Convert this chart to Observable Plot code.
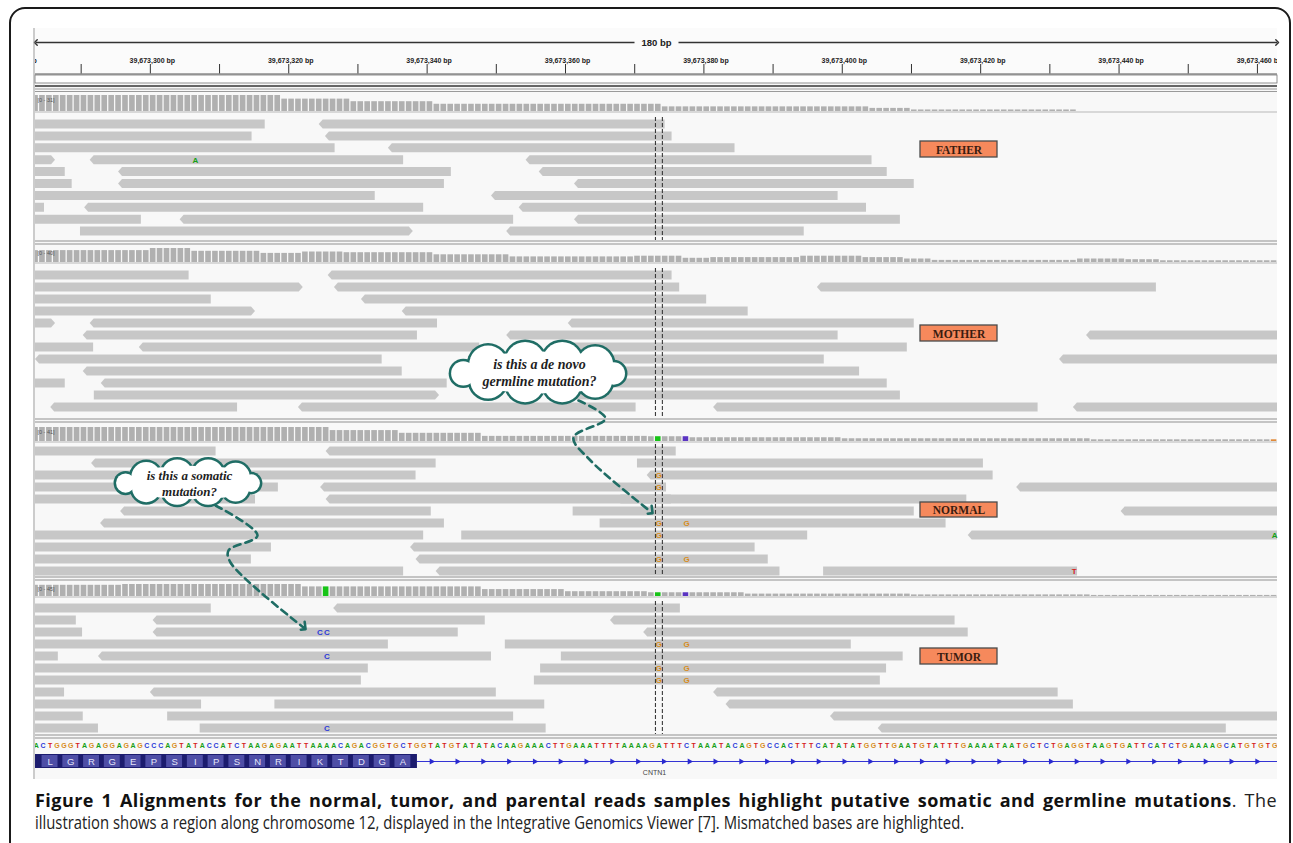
<!DOCTYPE html>
<html><head><meta charset="utf-8">
<script src="https://cdn.jsdelivr.net/npm/d3@7"></script>
<script src="https://cdn.jsdelivr.net/npm/@observablehq/plot@0.6"></script>
<style>
html,body{margin:0;padding:0;background:#fff;}
body{width:1293px;height:843px;position:relative;overflow:hidden;}
#frame{position:absolute;left:9px;top:7px;width:1278px;height:900px;border:2px solid #1a1a1a;border-radius:16px;}
#chart{position:absolute;left:0;top:0;}
#caption{position:absolute;left:35px;top:789px;width:1242px;font-family:"Open Sans",sans-serif;font-size:18px;line-height:22px;color:#222;}
#caption .l1{text-align:justify;text-align-last:justify;white-space:nowrap;letter-spacing:0.45px;}
#caption .l2{white-space:nowrap;transform:scaleX(0.825);transform-origin:0 0;}
#caption b{color:#111;}
</style></head><body>
<div id="frame"></div>
<div id="chart"></div>
<div id="caption"><div class="l1"><b>Figure 1 Alignments for the normal, tumor, and parental reads samples highlight putative somatic and germline mutations</b>. The</div><div class="l2">illustration shows a region along chromosome 12, displayed in the Integrative Genomics Viewer [7]. Mismatched bases are highlighted.</div></div>
<script>
// ================= DATA =================
const viewStart = 283.4, viewEnd = 462.9;            // visible window (bp offset of 39,673,000)
const rulerTickBp = [290,300,310,320,330,340,350,360,370,380,390,400,410,420,430,440,450,460];
const rulerLabelBp = [280,300,320,340,360,380,400,420,440,460];
const rulerLabels = ["39,673,280 bp","39,673,300 bp","39,673,320 bp","39,673,340 bp","39,673,360 bp","39,673,380 bp","39,673,400 bp","39,673,420 bp","39,673,440 bp","39,673,460 bp"];
const spanLabel = "180 bp";

const tracks = ["FATHER","MOTHER","NORMAL","TUMOR"];
const coverageMax = [31,40,41,45];

// coverage runs: [fromBase, toBase(exclusive), depth]
const coverageFather = [[283,319,31],[319,329,24],[329,341,19],[341,374,14],[374,404,9],[404,410,6],[410,434,3]];
const coverageMother = [[283,300,34],[300,306,40],[306,316,32],[316,322,26],[322,328,30],[328,341,28],[341,352,22],[352,370,16],[370,377,18],[377,381,12],[381,394,14],[394,403,18],[403,409,14],[409,413,10],[413,434,6],[434,441,10],[441,446,8],[446,463,5]];
const coverageNormal = [[283,326,41],[326,336,32],[336,348,24],[348,372,15],[372,378,14],[378,400,11],[400,436,8],[436,463,5]];
const coverageTumor = [[283,296,42],[296,322,45],[322,348,36],[348,360,26],[360,372,18],[372,386,14],[386,410,9],[410,436,6],[436,463,4]];

// highlighted coverage bases: [track, base, allele]
const coverageHighlights = [["NORMAL",373,"A"],["NORMAL",377,"C"],["NORMAL",462,"G"],["TUMOR",325,"A"],["TUMOR",373,"A"],["TUMOR",377,"C"]];

// reads: [row, start, end, strand(+1 right, -1 left, 0 clipped)]
const readsFather = [
 [0,280,316.6,0],[0,324.4,374.4,-1],
 [1,280,314.7,0],[1,325.3,375.4,-1],
 [2,280,326.7,0],[2,334.4,384.5,-1],
 [3,280,286.3,1],[3,291.3,336.6,-1],[3,354.3,404.3,-1],
 [4,280,287.7,0],[4,295.4,343.5,-1],[4,356.2,406.5,-1],
 [5,280,288.7,0],[5,295.4,342.5,-1],[5,361.3,410.4,-1],
 [6,280,332.5,0],[6,349.3,399.4,-1],
 [7,280,284.7,0],[7,290.5,339.5,-1],[7,353.3,403.5,-1],
 [8,280,298.7,0],[8,304.3,352.5,-1],[8,361.3,408.4,-1],
 [9,289.9,338,1],[9,351.5,394.5,-1]
];
const readsMother = [
 [0,280,305.6,0],[0,325.7,375.4,-1],
 [1,280,322.1,1],[1,326.6,376.5,-1],[1,396.4,445.4,-1],
 [2,280,308.8,0],[2,330.5,380.4,-1],
 [3,280,315.2,1],[3,336.4,386.4,-1],
 [4,280,286.3,1],[4,291.3,341.5,-1],[4,360.4,410.4,-1],
 [5,290.3,338.6,-1],[5,351.5,399.4,-1],[5,435.3,465,-1],
 [6,280,291.8,0],[6,298.4,347.6,-1],[6,359.4,409.4,0],
 [7,283.4,333.5,-1],[7,347.4,397.4,0],[7,431.4,465,-1],
 [8,290.3,336.4,-1],[8,352.5,402.5,0],
 [9,280,287.7,0],[9,292.9,342.9,-1],[9,356.5,406.5,0],
 [10,291.9,341.8,1],[10,358.4,408.4,0],
 [11,285.6,312.6,-1],[11,321.4,370.2,-1],[11,381.4,428.3,-1],[11,433.4,465,-1]
];
const readsNormal = [
 [0,280,309.5,0],[0,325.4,376,-1],
 [1,291.5,341.3,-1],[1,370.4,420.4,0],
 [2,280,338.4,0],[2,371.8,421.8,-1],
 [3,280,318.5,0],[3,324.6,374.6,-1],[3,425.2,465,-1],
 [4,280,315.2,0],[4,325.4,375.3,-1],[4,368,418,0],
 [5,295.7,340.6,-1],[5,361.1,410.4,0],[5,440.3,465,-1],
 [6,292.8,342.5,-1],[6,365,415,0],
 [7,280,339.5,0],[7,345,395,0],[7,418.2,465,-1],
 [8,280,317.5,0],[8,337.6,387.4,-1],
 [9,280,314.6,0],[9,338.4,389.3,-1],
 [10,280,336.6,0],[10,341.3,391,-1],[10,397.3,434,0]
];
const readsTumor = [
 [0,280,308.8,0],[0,326.5,376.6,-1],
 [1,280,289.3,0],[1,300.4,348.4,-1],[1,366.5,416.3,-1],
 [2,280,290.2,0],[2,300.4,344.5,-1],[2,371.3,418.2,-1],
 [3,280,334.4,0],[3,351.3,401.3,0],
 [4,280,286.7,0],[4,292.5,349.3,-1],[4,359.4,408.8,0],
 [5,280,331.5,0],[5,356.4,406.4,0],
 [6,280,330.5,0],[6,355.5,405.5,0],
 [7,280,287.6,0],[7,300,350,-1],[7,381.4,431.2,-1],
 [8,280,307.4,0],[8,318,357,0],[8,383.2,433.4,-1],
 [9,280,290.3,0],[9,302.5,352.5,0],[9,398.3,465,-1],
 [10,280,292.5,0],[10,307.2,357.2,0],[10,405.2,455.5,-1]
];

// mismatched bases in reads: [track, row, base, letter]
const mismatches = [
 ["FATHER",3,306,"A"],
 ["NORMAL",2,373,"G"],["NORMAL",3,373,"G"],["NORMAL",6,373,"G"],["NORMAL",6,377,"G"],
 ["NORMAL",7,373,"G"],["NORMAL",9,373,"G"],["NORMAL",9,377,"G"],["NORMAL",7,462,"A"],["NORMAL",10,433,"T"],
 ["TUMOR",2,324,"C"],["TUMOR",2,325,"C"],["TUMOR",4,325,"C"],["TUMOR",10,325,"C"],
 ["TUMOR",3,373,"G"],["TUMOR",3,377,"G"],["TUMOR",5,373,"G"],["TUMOR",5,377,"G"],["TUMOR",6,373,"G"],["TUMOR",6,377,"G"]
];
const focusBase = 373;

const sequenceStart = 283;
const sequence = "ACTGGGTAGAGGAGAGCCCAGTATACCATCTAAGAGAATTAAAACAGACGGTGCTGGTATGTATATACAAGAAACTTGAAATTTTAAAAGATTTCTAAATACAGTGCCACTTTCATATATGGTTGAATGTATTTGAAAATAATGCTCTGAGGTAAGTGATTCATCTGAAAAGCATGTGTG";
const aminoAcidStart = 284;
const aminoAcids = "LGRGEPSIPSNRIKTDGA";
const exonEnd = 338.6;
const geneName = "CNTN1";

const questions = [["is this a de novo","germline mutation?"],["is this a somatic","mutation?"]];

// ================= LAYOUT (pixels) =================
const L = {
  width:1293, height:785, left:35, right:1277,
  panelTop:28, panelBottom:779,
  arrowY:42, labelY:60, tickY1:64, tickY2:73.5,
  readH:9, seqY:745, geneY:761, geneNameY:772,
  tracks:{
    FATHER:{covTop:95,covBase:111,row0:124,step:11.9,bottom:240,box:[141,157]},
    MOTHER:{covTop:248,covBase:262,row0:275,step:12,bottom:418,box:[325,341]},
    NORMAL:{covTop:427,covBase:441,row0:451,step:12,bottom:576,box:[502,517]},
    TUMOR:{covTop:584,covBase:596,row0:608,step:12,bottom:734,box:[648,664]}
  },
  boxX:[920,997],
  clouds:[{cx:537,cy:372,sx:1.03,sy:0.9,rs:0.95,lines:[364,381],fs:14},
          {cx:187,cy:482,sx:0.86,sy:0.62,rs:0.76,lines:[475,491],fs:13}],
  arrows:[[[578,400],[605,418],[573,437],[590,460],[650,511]],
          [[215,505],[257,535],[228,550],[230,562],[303,627]]]
};
const pxPerBp = (L.right - L.left)/(viewEnd - viewStart);
const bpAt = px => viewStart + (px - L.left)/pxPerBp;
const baseColor = {A:"#17a017", C:"#2b3bd8", G:"#d78c1c", T:"#d62020"};
const covColor = {A:"#18c418", C:"#5b34c2", G:"#e08a3a", T:"#d62020"};
const teal = "#1f6d65";

// ================= DERIVED =================
const readsBy = {FATHER:readsFather, MOTHER:readsMother, NORMAL:readsNormal, TUMOR:readsTumor};
const coverageBy = {FATHER:coverageFather, MOTHER:coverageMother, NORMAL:coverageNormal, TUMOR:coverageTumor};
const tip = 4/pxPerBp;
const readPts = [];
tracks.forEach(t => {
  const T = L.tracks[t];
  readsBy[t].forEach(([row,s,e,dir],i) => {
    const yc = T.row0 + row*T.step, y1 = yc - L.readH/2, y2 = yc + L.readH/2, id = t + i;
    if (dir < 0) readPts.push({id,x:s,y1:yc,y2:yc},{id,x:s+tip,y1,y2}); else readPts.push({id,x:s,y1,y2});
    if (dir > 0) readPts.push({id,x:e-tip,y1,y2},{id,x:e,y1:yc,y2:yc}); else readPts.push({id,x:e,y1,y2});
  });
});
const hl = new Map(coverageHighlights.map(([t,b,a]) => [t+"_"+b, a]));
const covBars = [];
tracks.forEach((t,ti) => {
  const T = L.tracks[t];
  coverageBy[t].forEach(([s,e,v]) => {
    for (let b = s; b < e; b++) {
      const a = hl.get(t+"_"+b);
      covBars.push({b, y1: T.covBase - v/coverageMax[ti]*(T.covBase-T.covTop), y2: T.covBase, fill: a ? covColor[a] : "#b0b0b0"});
    }
  });
});
const mm = mismatches.map(([t,row,b,letter]) => ({x:b+0.5, y:L.tracks[t].row0 + row*L.tracks[t].step, letter}));
const seqLetters = Array.from(sequence, (c,i) => ({x: sequenceStart + i + 0.5, c}));
const aaCells = Array.from(aminoAcids, (c,i) => ({s: aminoAcidStart + 3*i, c}));
const intronArrows = d3.range(bpAt(431), viewEnd - 0.5, 25.8/pxPerBp);

// cloud outline built from overlapping circles (px offsets from the cloud centre)
const cloudOuter = [[-48,-9,21],[-12,-12,22],[24,-12,22],[56,-9,20],[-48,9,20],[-12,12,21],[24,12,21],[56,9,19],[-72,1,14],[74,1,13]];
const cloudInner = [[-30,0,20],[5,0,22],[40,0,20]];
const cloudStroke = [], cloudFill = [], cloudText = [];
L.clouds.forEach((c,k) => {
  cloudOuter.forEach(([ox,oy,r]) => {
    cloudStroke.push({x: bpAt(c.cx + ox*c.sx), y: c.cy + oy*c.sy, r: r*c.rs + 1.4});
    cloudFill.push({x: bpAt(c.cx + ox*c.sx), y: c.cy + oy*c.sy, r: r*c.rs - 1.1});
  });
  cloudInner.forEach(([ox,oy,r]) => cloudFill.push({x: bpAt(c.cx + ox*c.sx), y: c.cy + oy*c.sy, r: r*c.rs}));
  questions[k].forEach((line,j) => cloudText.push({x: bpAt(c.cx + 2), y: c.lines[j], line, fs: c.fs}));
});
const arrowPts = L.arrows.flatMap((pts,k) => pts.map(([px,py]) => ({x: bpAt(px), y: py, k})));

const center = (viewStart + viewEnd)/2, gap = 22/pxPerBp;
const sepLines = tracks.flatMap(t => [L.tracks[t].bottom + 0.5, L.tracks[t].bottom + 3.5]);

const plot = Plot.plot({
  width: L.width, height: L.height,
  marginLeft: L.left, marginRight: L.width - L.right, marginTop: 0, marginBottom: 0,
  x: {domain: [viewStart, viewEnd], axis: null},
  y: {domain: [0, L.height], range: [0, L.height], axis: null},
  r: {type: "identity"},
  style: {background: "transparent", overflow: "visible"},
  marks: [
    Plot.rect([0], {x1: viewStart, x2: viewEnd, y1: L.panelTop, y2: L.panelBottom, fill: "#f8f8f8"}),
    Plot.rect([0], {x1: viewStart, x2: viewEnd, y1: L.panelTop, y2: 84, fill: "#fbfbfb"}),
    // ruler
    Plot.link([{x1: center - gap, x2: viewStart + 0.05}, {x1: center + gap, x2: viewEnd - 0.05}],
      {x1: "x1", x2: "x2", y1: L.arrowY, y2: L.arrowY, stroke: "#333", strokeWidth: 1.4, markerEnd: "arrow"}),
    Plot.text([spanLabel], {x: center, y: L.arrowY, text: d => d, fontSize: 9.5, fontWeight: "bold", fill: "#222", fontFamily: "Liberation Sans, Arial, sans-serif"}),
    Plot.text(rulerLabelBp, {x: d => d, y: L.labelY, dx: 2, text: (d,i) => rulerLabels[i], fontSize: 7, fontWeight: "bold", fill: "#222", fontFamily: "Liberation Sans, Arial, sans-serif", clip: true}),
    Plot.ruleX(rulerTickBp, {x: d => d, y1: L.tickY1, y2: L.tickY2, stroke: "#333", strokeWidth: 1}),
    Plot.ruleY([L.tickY2], {x1: viewStart, x2: viewEnd, stroke: "#555"}),
    Plot.rect([0], {x1: viewStart, x2: viewEnd, y1: 75, y2: 83, fill: "#fff", stroke: "#777", strokeWidth: 0.8}),
    Plot.ruleY([85.5], {x1: viewStart, x2: viewEnd, stroke: "#666", strokeWidth: 2}),
    Plot.ruleY([88.5, 91], {x1: viewStart, x2: viewEnd, stroke: "#9a9a9a", strokeWidth: 1}),
    // coverage
    Plot.ruleY(tracks.map(t => L.tracks[t].covBase + 0.5), {x1: viewStart, x2: viewEnd, stroke: "#b8b8b8"}),
    Plot.rect(covBars, {x1: "b", x2: d => d.b + 1, y1: "y1", y2: "y2", fill: "fill", insetRight: 1.3, clip: true}),
    Plot.text(tracks, {x: viewStart, y: t => L.tracks[t].covTop + 5, text: (t,i) => `[0 - ${coverageMax[i]}]`, dx: 2, textAnchor: "start", fontSize: 5.5, fill: "#555", fontFamily: "Liberation Sans, Arial, sans-serif"}),
    // reads
    Plot.areaY(readPts, {x: "x", y1: "y1", y2: "y2", z: "id", fill: "#c7c7c7", curve: "linear", clip: true}),
    // focus lines
    Plot.ruleX(tracks.flatMap(t => [{x: focusBase, t}, {x: focusBase + 1, t}]), {x: "x", y1: d => L.tracks[d.t].row0 - 7, y2: d => L.tracks[d.t].bottom, stroke: "#3a3a3a", strokeWidth: 1.1, strokeDasharray: "4,2"}),
    // mismatches
    Plot.text(mm, {x: "x", y: "y", text: "letter", fill: d => baseColor[d.letter], fontSize: 8, fontWeight: "bold", fontFamily: "Liberation Sans, Arial, sans-serif"}),
    // separators
    Plot.ruleY(sepLines, {x1: viewStart, x2: viewEnd, stroke: "#8f8f8f", strokeWidth: 1.2}),
    Plot.ruleX([viewStart], {y1: L.panelTop, y2: L.panelBottom, stroke: "#999", dx: -1.5}),
    // sample labels
    Plot.rect(tracks, {x1: bpAt(L.boxX[0]), x2: bpAt(L.boxX[1]), y1: t => L.tracks[t].box[0], y2: t => L.tracks[t].box[1], fill: "#f6895c", stroke: "#4a4a4a", strokeWidth: 1.3}),
    Plot.text(tracks, {x: bpAt((L.boxX[0] + L.boxX[1])/2), y: t => (L.tracks[t].box[0] + L.tracks[t].box[1])/2 + 0.5, text: d => d, fontSize: 11.5, fontWeight: "bold", fill: "#3a1c10", fontFamily: "Liberation Serif, serif"}),
    // reference sequence
    Plot.text(seqLetters, {x: "x", y: L.seqY, text: "c", fill: d => baseColor[d.c], fontSize: 7, fontWeight: "bold", fontFamily: "Liberation Sans, Arial, sans-serif", clip: true}),
    // gene track
    Plot.ruleY([L.geneY], {x1: exonEnd, x2: viewEnd, stroke: "#3434d4", strokeWidth: 1.2}),
    Plot.dot(intronArrows, {x: d => d, y: L.geneY, symbol: "triangle", rotate: 90, r: 2.3, fill: "#2a2ad0"}),
    Plot.rect([0], {x1: viewStart, x2: exonEnd, y1: L.geneY - 7, y2: L.geneY + 7, fill: "#1c1c6e"}),
    Plot.rect(aaCells, {x1: d => d.s + 0.35, x2: d => d.s + 2.65, y1: L.geneY - 6, y2: L.geneY + 6, fill: "#4e4ea6"}),
    Plot.text(aaCells, {x: d => d.s + 1.5, y: L.geneY, text: "c", fill: "#e4e4fa", fontSize: 9.5, fontFamily: "Liberation Sans, Arial, sans-serif"}),
    Plot.text([geneName], {x: bpAt(654), y: L.geneNameY, text: d => d, fontSize: 7, fill: "#444", fontFamily: "Liberation Sans, Arial, sans-serif"}),
    // callouts
    Plot.line(arrowPts, {x: "x", y: "y", z: "k", curve: "catmull-rom", stroke: teal, strokeWidth: 2.6, strokeDasharray: "7,5", markerEnd: "arrow"}),
    Plot.dot(cloudStroke, {x: "x", y: "y", r: "r", fill: teal}),
    Plot.dot(cloudFill, {x: "x", y: "y", r: "r", fill: "#fff"}),
    Plot.text(cloudText, {x: "x", y: "y", text: "line", fontSize: d => d.fs, fontStyle: "italic", fontWeight: "bold", fill: "#1e1e1e", fontFamily: "Liberation Serif, serif"})
  ]
});
document.getElementById("chart").append(plot);
</script>
</body></html>
